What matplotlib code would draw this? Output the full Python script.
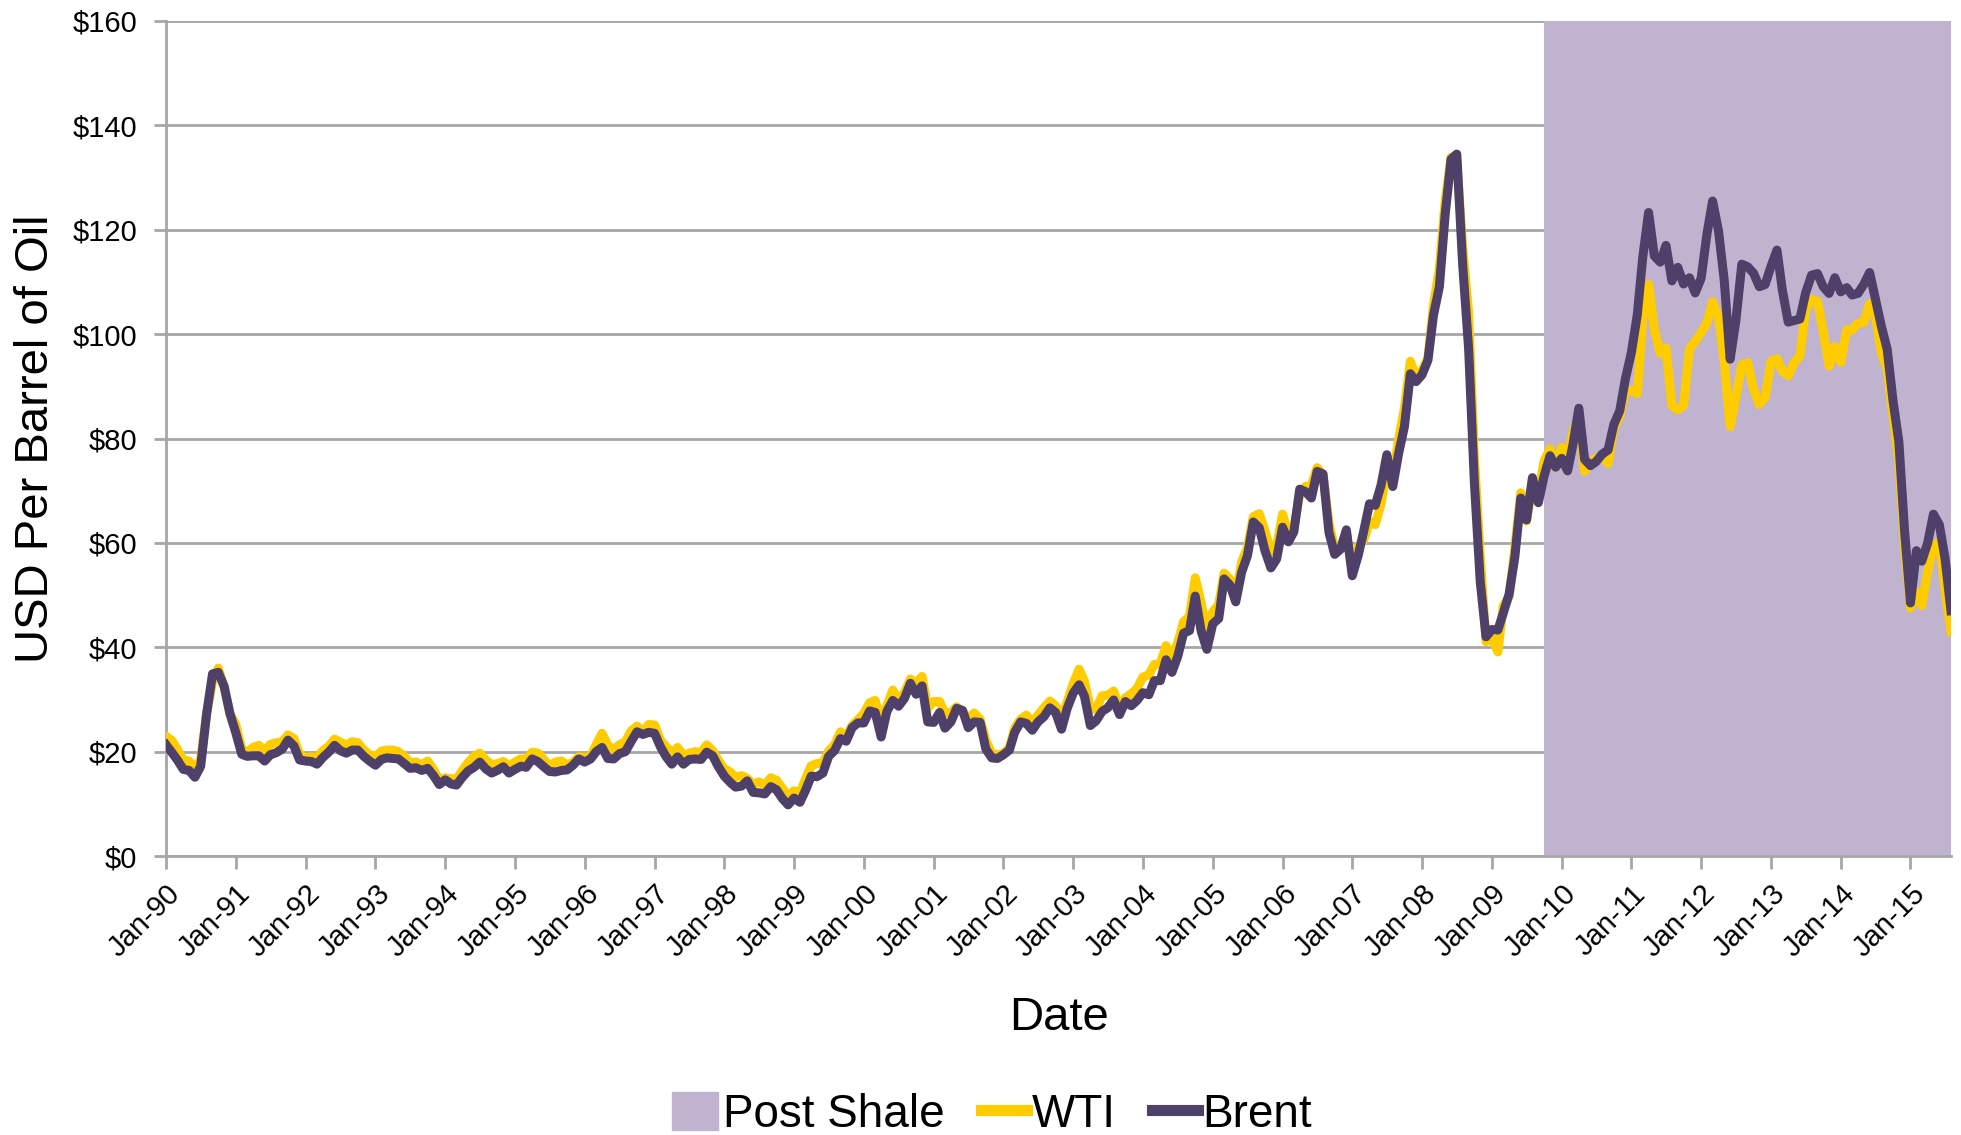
import pandas as pd
import matplotlib.pyplot as plt
import matplotlib.dates as mdates
from matplotlib.patches import Patch
from matplotlib.lines import Line2D

plt.rcParams["font.family"] = ["Liberation Sans", "DejaVu Sans"]

# monthly spot prices, USD per barrel, Jan-1990 .. Aug-2015
wti = [
    22.9, 22.1, 20.4, 18.4, 18.2, 16.7, 18.5, 27.3, 33.5, 36.0, 32.3, 27.3,  # 1990
    25.2, 20.5, 19.9, 20.8, 21.2, 20.2, 21.4, 21.7, 21.9, 23.2, 22.5, 19.5,  # 1991
    18.8, 19.0, 18.9, 20.2, 21.0, 22.4, 21.8, 21.3, 21.9, 21.7, 20.3, 19.4,  # 1992
    19.0, 20.1, 20.3, 20.3, 20.0, 19.1, 17.9, 18.0, 17.5, 18.2, 16.6, 14.5,  # 1993
    15.0, 14.8, 14.7, 16.4, 17.9, 19.1, 19.7, 18.4, 17.5, 17.7, 18.1, 17.2,  # 1994
    18.0, 18.6, 18.5, 19.9, 19.7, 18.5, 17.3, 18.0, 18.2, 17.4, 18.0, 19.0,  # 1995
    18.9, 19.1, 21.3, 23.5, 21.2, 20.4, 21.3, 21.9, 24.0, 24.9, 23.7, 25.2,  # 1996
    25.1, 22.2, 21.0, 19.7, 20.8, 19.3, 19.7, 20.0, 19.8, 21.3, 20.2, 18.3,  # 1997
    16.7, 16.1, 15.1, 15.4, 14.9, 13.7, 14.2, 13.5, 15.0, 14.5, 13.0, 11.4,  # 1998
    12.5, 12.0, 14.7, 17.3, 17.7, 17.9, 20.1, 21.3, 23.8, 22.7, 25.0, 26.1,  # 1999
    27.3, 29.4, 29.8, 25.7, 28.8, 31.8, 29.7, 31.3, 33.9, 33.1, 34.4, 28.4,  # 2000
    29.6, 29.6, 27.3, 27.5, 28.6, 27.6, 26.4, 27.4, 26.2, 22.2, 19.6, 19.4,  # 2001
    19.7, 20.7, 24.5, 26.2, 27.0, 25.5, 27.0, 28.4, 29.7, 28.8, 26.4, 29.5,  # 2002
    33.0, 35.8, 33.5, 28.2, 28.1, 30.7, 30.8, 31.6, 28.3, 30.3, 31.1, 32.1,  # 2003
    34.3, 34.7, 36.7, 36.8, 40.3, 38.0, 40.8, 44.9, 45.9, 53.3, 48.5, 43.2,  # 2004
    46.8, 48.2, 54.2, 53.0, 49.8, 56.4, 59.0, 65.0, 65.6, 62.3, 58.3, 59.4,  # 2005
    65.5, 61.6, 62.7, 69.4, 70.8, 71.0, 74.4, 73.0, 63.8, 58.9, 59.1, 62.0,  # 2006
    54.5, 59.3, 60.4, 64.0, 63.5, 67.5, 74.1, 72.4, 79.9, 85.8, 94.8, 91.7,  # 2007
    93.0, 95.4, 105.5, 112.6, 125.4, 133.9, 133.4, 116.7, 104.1, 76.6, 57.3, 41.1,  # 2008
    41.7, 39.1, 47.9, 49.7, 59.0, 69.6, 64.2, 71.1, 69.4, 75.7, 78.0, 74.5,  # 2009
    78.3, 76.4, 81.2, 84.3, 73.7, 75.3, 76.3, 76.6, 75.2, 81.9, 84.3, 89.2,  # 2010
    89.2, 88.6, 102.9, 109.5, 100.9, 96.3, 97.3, 86.3, 85.5, 86.3, 97.2, 98.6,  # 2011
    100.3, 102.2, 106.2, 103.3, 94.7, 82.3, 87.9, 94.1, 94.5, 89.5, 86.5, 87.9,  # 2012
    94.8, 95.3, 92.9, 92.0, 94.5, 95.8, 104.7, 106.6, 106.3, 100.5, 93.9, 97.6,  # 2013
    94.6, 100.8, 100.8, 102.1, 102.2, 105.8, 103.6, 96.5, 93.2, 84.4, 75.8, 59.3,  # 2014
    47.5, 50.6, 48.0, 54.5, 59.5, 60.2, 51.0, 43.0,  # 2015
]

brent = [
    21.3, 19.8, 18.4, 16.6, 16.4, 15.1, 17.2, 27.2, 34.9, 35.2, 32.5, 27.3,  # 1990
    23.6, 19.5, 19.1, 19.2, 19.2, 18.2, 19.4, 19.8, 20.5, 22.2, 21.1, 18.4,  # 1991
    18.2, 18.1, 17.6, 18.9, 19.9, 21.2, 20.2, 19.7, 20.3, 20.3, 19.1, 18.2,  # 1992
    17.4, 18.5, 18.8, 18.7, 18.6, 17.7, 16.8, 16.9, 16.4, 16.8, 15.4, 13.7,  # 1993
    14.6, 13.8, 13.6, 15.1, 16.3, 17.0, 18.0, 16.7, 15.9, 16.4, 17.1, 15.9,  # 1994
    16.6, 17.2, 17.0, 18.6, 18.1, 17.1, 16.2, 16.1, 16.4, 16.5, 17.4, 18.6,  # 1995
    18.0, 18.6, 20.0, 20.8, 18.7, 18.6, 19.6, 20.0, 22.0, 23.8, 23.3, 23.7,  # 1996
    23.5, 20.9, 19.1, 17.6, 19.0, 17.6, 18.5, 18.6, 18.5, 19.9, 19.2, 17.1,  # 1997
    15.3, 14.1, 13.2, 13.4, 14.4, 12.2, 12.1, 11.9, 13.3, 12.7, 11.0, 9.8,  # 1998
    11.1, 10.3, 12.5, 15.3, 15.2, 15.9, 19.1, 20.2, 22.5, 22.0, 24.6, 25.5,  # 1999
    25.5, 27.8, 27.5, 22.8, 27.7, 29.8, 28.7, 30.2, 33.1, 31.0, 32.6, 25.7,  # 2000
    25.6, 27.5, 24.5, 25.7, 28.3, 27.9, 24.6, 25.7, 25.6, 20.5, 18.8, 18.7,  # 2001
    19.4, 20.3, 23.7, 25.7, 25.4, 24.1, 25.7, 26.7, 28.4, 27.5, 24.3, 28.3,  # 2002
    31.2, 32.8, 30.6, 25.0, 25.9, 27.7, 28.4, 29.9, 27.1, 29.6, 28.8, 29.8,  # 2003
    31.3, 30.9, 33.6, 33.6, 37.6, 35.2, 38.2, 42.7, 43.2, 49.8, 43.1, 39.6,  # 2004
    44.5, 45.5, 53.1, 51.9, 48.7, 54.4, 57.5, 64.0, 62.9, 58.5, 55.2, 56.9,  # 2005
    63.0, 60.2, 62.1, 70.3, 69.8, 68.6, 73.7, 73.2, 62.0, 57.8, 58.8, 62.5,  # 2006
    53.7, 57.6, 62.1, 67.5, 67.2, 71.1, 76.9, 70.8, 77.2, 82.3, 92.4, 90.9,  # 2007
    92.2, 95.0, 103.6, 109.1, 122.8, 133.5, 134.5, 113.2, 97.2, 71.6, 52.5, 42.0,  # 2008
    43.4, 43.3, 46.5, 50.2, 57.3, 68.6, 64.4, 72.5, 67.7, 72.8, 76.7, 74.5,  # 2009
    76.2, 73.8, 78.8, 85.8, 76.0, 74.8, 75.6, 77.0, 77.8, 82.7, 85.3, 91.5,  # 2010
    96.5, 103.7, 114.6, 123.3, 115.0, 113.8, 117.0, 110.2, 112.8, 109.6, 110.8, 107.9,  # 2011
    110.7, 119.3, 125.5, 119.8, 110.3, 95.2, 102.6, 113.4, 112.9, 111.7, 109.1, 109.5,  # 2012
    113.0, 116.1, 108.5, 102.3, 102.6, 102.9, 107.9, 111.3, 111.6, 109.1, 107.8, 110.8,  # 2013
    108.1, 108.9, 107.5, 107.8, 109.5, 111.8, 106.8, 101.6, 97.1, 87.4, 79.4, 62.3,  # 2014
    48.5, 58.5, 56.5, 60.0, 65.5, 63.5, 57.0, 47.0,  # 2015
]

dates = pd.date_range("1990-01-01", periods=len(wti), freq="MS")
shale_start = pd.Timestamp("2009-10-01")

fig = plt.figure(figsize=(19.61, 11.35), dpi=100)
ax = fig.add_axes([0.0847, 0.2458, 0.9102, 0.7357])

ax.axvspan(shale_start, dates[-1], color="#bfb3cf", zorder=1, lw=0)
ax.plot(dates, wti, color="#ffcc00", lw=6.5, zorder=3, solid_joinstyle="round")
ax.plot(dates, brent, color="#4e4068", lw=6.5, zorder=4, solid_joinstyle="round")

ax.set_xlim(dates[0], dates[-1])
ax.set_ylim(0, 160)
ax.set_yticks(range(0, 161, 20))
ax.set_yticklabels(["$%d" % v for v in range(0, 161, 20)], fontsize=21)
ax.yaxis.grid(True, color="#a6a6a6", lw=2, zorder=0)
ax.set_axisbelow(True)

ax.xaxis.set_major_locator(mdates.YearLocator())
ax.xaxis.set_major_formatter(mdates.DateFormatter("%b-%y"))
plt.setp(ax.get_xticklabels(), rotation=45, ha="right", rotation_mode="anchor", fontsize=21)

for s in ["top", "right"]:
    ax.spines[s].set_visible(False)
for s in ["left", "bottom"]:
    ax.spines[s].set_color("#a6a6a6")
    ax.spines[s].set_linewidth(2)
ax.tick_params(axis="both", color="#a6a6a6", width=2, length=9)
ax.tick_params(axis="y", pad=12)
ax.tick_params(axis="x", pad=8)

ax.set_xlabel("Date", fontsize=34, labelpad=24)
ax.set_ylabel("USD Per Barrel of Oil", fontsize=34, labelpad=10)

handles = [
    Patch(color="#bfb3cf", label="Post Shale"),
    Line2D([], [], color="#ffcc00", lw=8, label="WTI"),
    Line2D([], [], color="#4e4068", lw=8, label="Brent"),
]
fig.legend(handles=handles, loc="center", bbox_to_anchor=(0.506, 0.018), ncol=3,
           frameon=False, fontsize=33, handlelength=1.0, handletextpad=0.1,
           columnspacing=0.8, handleheight=0.9)

plt.savefig("out.png")
